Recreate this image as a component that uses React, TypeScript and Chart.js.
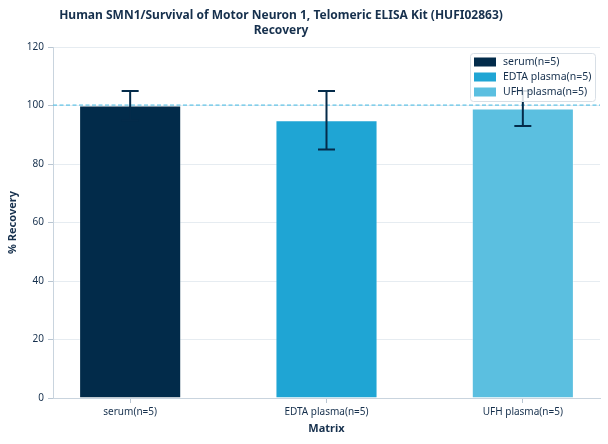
import { useEffect, useRef } from 'react';
import { Chart, registerables } from 'chart.js';

Chart.register(...registerables);

const categories = ['serum(n=5)', 'EDTA plasma(n=5)', 'UFH plasma(n=5)'];
const recovery = [100, 95, 99];
const errors = [5, 10, 6];
const yTicks = [0, 20, 40, 60, 80, 100, 120];
const colors = ['#022b4a', '#1fa5d4', '#5bbfe0'];
const titleLines = ['Human SMN1/Survival of Motor Neuron 1, Telomeric ELISA Kit (HUFI02863)', 'Recovery'];

const navy = '#16304d';
const font = '"Noto Sans", sans-serif';

// dashed 100 % reference line, drawn as small filled dashes behind the bars
const refLine = {
  id: 'refLine',
  beforeDatasetsDraw(chart: any) {
    const { ctx, chartArea, scales } = chart;
    const y = Math.round(scales.y.getPixelForValue(100));
    ctx.save();
    ctx.fillStyle = '#5cc2e6';
    for (let x = chartArea.left; x < chartArea.right; x += 6.5) {
      ctx.fillRect(x, y - 0.5, Math.min(4, chartArea.right - x), 1.2);
    }
    ctx.restore();
  },
};

const errorBars = {
  id: 'errorBars',
  afterDatasetsDraw(chart: any) {
    const { ctx, scales } = chart;
    const meta = chart.getDatasetMeta(0);
    ctx.save();
    ctx.strokeStyle = '#042b4a';
    ctx.lineWidth = 2;
    meta.data.forEach((bar: any, i: number) => {
      const top = scales.y.getPixelForValue(recovery[i] + errors[i]);
      const bottom = scales.y.getPixelForValue(recovery[i] - errors[i]);
      ctx.beginPath();
      ctx.moveTo(bar.x, top);
      ctx.lineTo(bar.x, bottom);
      ctx.moveTo(bar.x - 8.5, top);
      ctx.lineTo(bar.x + 8.5, top);
      ctx.moveTo(bar.x - 8.5, bottom);
      ctx.lineTo(bar.x + 8.5, bottom);
      ctx.stroke();
    });
    ctx.restore();
  },
};

// title and legend drawn by hand so they sit where the original has them
const overlay = {
  id: 'overlay',
  afterDraw(chart: any) {
    const { ctx } = chart;
    ctx.save();
    ctx.fillStyle = navy;
    ctx.font = `bold 12px ${font}`;
    ctx.textAlign = 'center';
    ctx.textBaseline = 'middle';
    titleLines.forEach((t, i) => ctx.fillText(t, 281, 16 + i * 15));

    const x = 470;
    const y = 53;
    const w = 125;
    const h = 48;
    ctx.fillStyle = 'rgba(255,255,255,0.85)';
    ctx.strokeStyle = '#d8dfe6';
    ctx.lineWidth = 1;
    ctx.beginPath();
    ctx.roundRect(x + 0.5, y + 0.5, w, h, 3);
    ctx.fill();
    ctx.stroke();
    ctx.font = `10.5px ${font}`;
    ctx.textAlign = 'left';
    categories.forEach((c, i) => {
      const cy = y + 9 + i * 15;
      ctx.fillStyle = colors[i];
      ctx.fillRect(x + 4, cy - 4.5, 22, 9);
      ctx.fillStyle = navy;
      ctx.fillText(c, x + 33, cy);
    });
    ctx.restore();
  },
};

export default function App() {
  const chartRef = useRef<HTMLCanvasElement>(null);
  const chartInstance = useRef<Chart | null>(null);

  useEffect(() => {
    if (!chartRef.current) return;
    if (chartInstance.current) chartInstance.current.destroy();
    const ctx = chartRef.current.getContext('2d');
    if (!ctx) return;

    chartInstance.current = new Chart(ctx, {
      type: 'bar',
      data: {
        datasets: [
          {
            data: recovery.map((v, i) => ({ x: i, y: v })),
            backgroundColor: colors,
            borderColor: 'rgba(255,255,255,0.35)',
            borderWidth: 1,
            barPercentage: 0.52,
            categoryPercentage: 1,
          },
        ],
      },
      options: {
        animation: false,
        responsive: true,
        maintainAspectRatio: false,
        layout: { padding: { top: 47, right: 8, left: 0, bottom: 0 } },
        plugins: {
          legend: { display: false },
          title: { display: false },
          tooltip: { enabled: false },
        },
        scales: {
          x: {
            type: 'linear',
            offset: false,
            min: -0.393,
            max: 2.393,
            afterBuildTicks: (scale: any) => {
              scale.ticks = categories.map((_, i) => ({ value: i }));
            },
            afterFit: (scale: any) => {
              scale.height = 46;
            },
            ticks: {
              callback: (v: any) => categories[v] ?? '',
              color: navy,
              font: { family: font, size: 10 },
              padding: 3,
              maxRotation: 0,
            },
            grid: { offset: false, drawOnChartArea: false, tickLength: 5, tickColor: '#b9c6d2' },
            border: { color: '#c9d4de', width: 1 },
            title: {
              display: true,
              text: 'Matrix',
              color: navy,
              font: { family: font, size: 11, weight: 'bold' },
              padding: { top: 0, bottom: 9 },
            },
          },
          y: {
            min: 0,
            max: 120,
            afterBuildTicks: (scale: any) => {
              scale.ticks = yTicks.map((v) => ({ value: v }));
            },
            afterFit: (scale: any) => {
              scale.width = 53;
            },
            ticks: {
              color: navy,
              font: { family: font, size: 10 },
              padding: 4,
            },
            grid: { color: '#e6ecf1', tickLength: 5, tickColor: '#b9c6d2' },
            border: { color: '#c9d4de', width: 1 },
            title: {
              display: true,
              text: '% Recovery',
              color: navy,
              font: { family: font, size: 11, weight: 'bold' },
              padding: { bottom: 0, top: 6 },
            },
          },
        },
      },
      plugins: [refLine, errorBars, overlay],
    });

    return () => {
      if (chartInstance.current) {
        chartInstance.current.destroy();
        chartInstance.current = null;
      }
    };
  }, []);

  return (
    <div style={{ position: 'absolute', left: 0, top: 0, width: 608, height: 444 }}>
      <canvas ref={chartRef} />
    </div>
  );
}
